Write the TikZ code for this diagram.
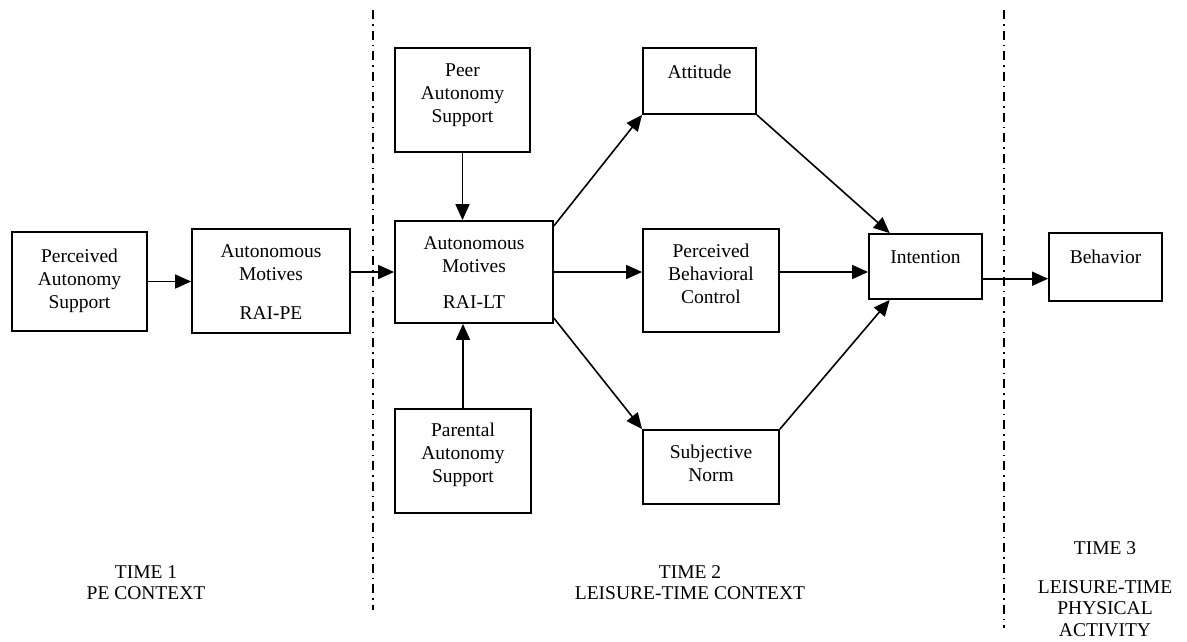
\documentclass[tikz,border=0pt]{standalone}
\usepackage{fontspec}
\setmainfont{Liberation Serif}
\usetikzlibrary{arrows.meta}
\tikzset{
  box/.style={draw,line width=1.8pt,minimum width=136pt,minimum height=104pt,inner sep=0pt},
  txt/.style={align=center,font=\fontsize{19.5}{23}\selectfont,inner sep=0pt},
  period/.style={align=center,font=\fontsize{19.5}{21.5}\selectfont,inner sep=0pt},
  link/.style={-{Triangle[length=16pt,width=14pt]},line width=1.6pt},
  border/.style={line width=1.6pt,dash pattern=on 9pt off 5pt on 1.5pt off 5pt}
}

\begin{document}
\begin{tikzpicture}[x=1pt,y=-1pt]
        \useasboundingbox (0,0) rectangle (1187,641);
        %
        % Time 1
        \node[box,minimum width=135pt,minimum height=99pt] (pas) at (79.5,281.5) {};
        \node[txt] (pas-t) at (79.5,281) {Perceived\\Autonomy\\Support};
        \node[box,minimum width=158pt] (am-pe) at (271,281) {};
        \node[txt] (am-pe-t) at (271,282) {Autonomous\\Motives\\[16pt]RAI-PE};
        %
        % Time 2
        \node[box,minimum width=135pt] (peer) at (462.5,100) {};
        \node[txt] (peer-t) at (462.5,95) {Peer\\Autonomy\\Support};
        \node[box,minimum width=158pt,minimum height=102pt] (am-lt) at (474,272) {};
        \node[txt] (am-lt-t) at (474,272.5) {Autonomous\\Motives\\[13pt]RAI-LT};
        \node[box] (par) at (463,461) {};
        \node[txt] (par-t) at (463,455) {Parental\\Autonomy\\Support};
        \node[box,minimum width=113pt,minimum height=66pt] (att) at (699.5,81) {};
        \node[txt] (att-t) at (699.5,72) {Attitude};
        \node[box,minimum height=103pt] (pbc) at (711,280.5) {};
        \node[txt] (pbc-t) at (711,274) {Perceived\\Behavioral\\Control};
        \node[box,minimum height=74pt] (sn) at (711,467) {};
        \node[txt] (sn-t) at (711,463.5) {Subjective\\Norm};
        \node[box,minimum width=113pt,minimum height=65pt] (int) at (925.5,266.5) {};
        \node[txt] (int-t) at (925.5,257) {Intention};
        %
        % Time 3
        \node[box,minimum width=113pt,minimum height=68pt] (beh) at (1105.5,267) {};
        \node[txt] (beh-t) at (1105.5,257) {Behavior};
        %
        \draw[link] (pas.east) -- (pas.east -| am-pe.west);
        \draw[link] (am-lt.west -| am-pe.east) -- (am-lt.west);
        \draw[link] (peer.south) -- (peer.south |- am-lt.north);
        \draw[link] (par.north) -- (par.north |- am-lt.south);
        \draw[link] (am-lt.30) -- (att.south west);
        \draw[link] (am-lt.east) -- (am-lt.east -| pbc.west);
        \draw[link] (am-lt.-30) -- (sn.north west);
        \draw[link] (att.south east) -- (int.137);
        \draw[link] (pbc.east |- am-lt.east) -- (am-lt.east -| int.west);
        \draw[link] (sn.north east) -- (int.-137);
        \draw[link] (int.-12) -- (int.-12 -| beh.west);
        %
        % context borders
        \coordinate (d1t) at (373,10);
        \coordinate (d1b) at (373,610);
        \coordinate (d2t) at (1004,10);
        \coordinate (d2b) at (1004,628);
        \draw[border] (d1t) -- (d1b);
        \draw[border] (d2t) -- (d2b);
        %
        \node[period] (time1) at (146,582.5) {TIME 1\\PE CONTEXT};
        \node[period] (time2) at (690,582.5) {TIME 2\\LEISURE-TIME CONTEXT};
        \node[period] (time3) at (1105,548) {TIME 3};
        \node[period] (time3-t) at (1105,608.5) {LEISURE-TIME\\PHYSICAL\\ACTIVITY};
\end{tikzpicture}
\end{document}
